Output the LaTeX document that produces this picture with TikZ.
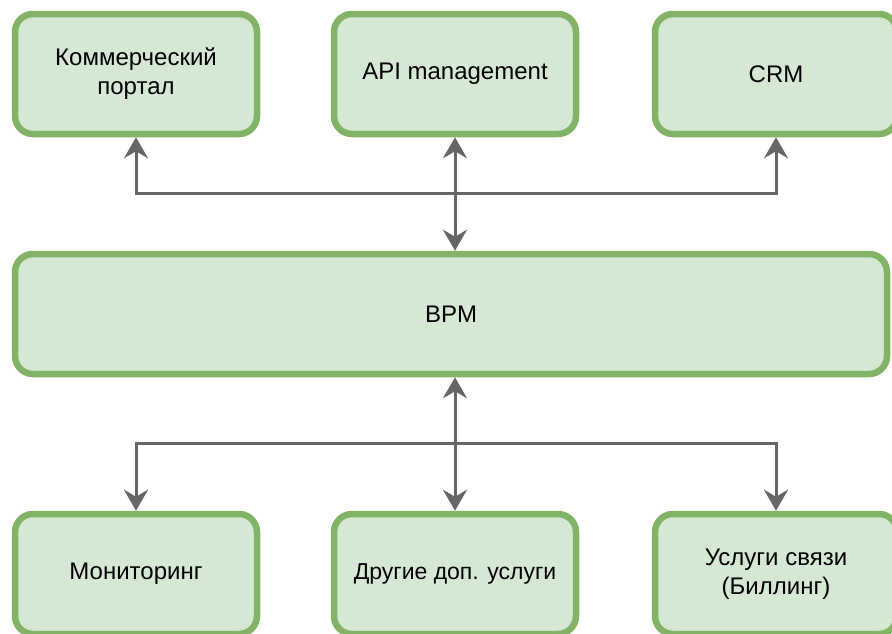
\documentclass[tikz,border=0pt]{standalone}
\usepackage{fontspec}
\setmainfont{Liberation Sans}
\usetikzlibrary{arrows.meta}

\definecolor{boxfill}{HTML}{D5E8D4}
\definecolor{boxline}{HTML}{82B366}
\definecolor{linkgray}{HTML}{666666}

\tikzset{
  sysbox/.style={draw=boxline, fill=boxfill, line width=6.5pt, rounded corners=18pt,
    minimum width=242pt, minimum height=120pt, align=center, inner sep=0pt,
    font=\fontsize{24}{29}\selectfont},
  link/.style={draw=linkgray, line width=3pt,
    {Stealth[length=21pt,width=24pt,inset=7pt]}-{Stealth[length=21pt,width=24pt,inset=7pt]}}
}

\begin{document}
\begin{tikzpicture}[x=1pt,y=1pt]
\useasboundingbox (0,0) rectangle (892,-633);
\clip (0,0) rectangle (892,-633);

% top row
\node[sysbox] (portal) at (136,-74) {Коммерческий\\портал};
\node[sysbox] (api) at (455,-74) {API management};
\node[sysbox] (crm) at (776,-74) {CRM};

\node[sysbox, minimum width=872pt] (bpm) at (451,-314) {BPM};

% bottom row
\node[sysbox] (monit) at (136,-574) {Мониторинг};
\node[sysbox, font=\fontsize{23}{29}\selectfont] (extra) at (455,-574) {Другие доп. услуги};
\node[sysbox] (billing) at (776,-574) {Услуги связи\\(Биллинг)};

\coordinate (topbus) at (455,-193);
\coordinate (botbus) at (455,-443);

\draw[link] (portal.south) |- (topbus) -| (crm.south);
\draw[link] (api.south) -- (api.south |- bpm.north);

\draw[link] (monit.north) |- (botbus) -| (billing.north);
\draw[link] (extra.north |- bpm.south) -- (extra.north);

\end{tikzpicture}
\end{document}
